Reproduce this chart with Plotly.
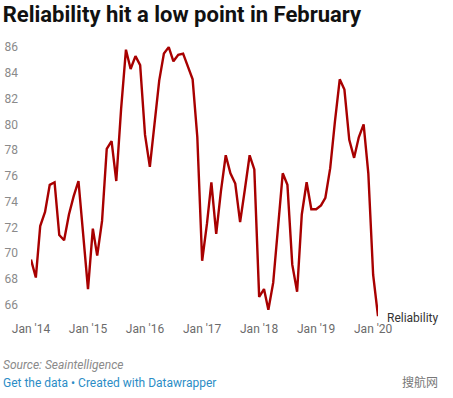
import plotly.graph_objects as go
import pandas as pd

months = pd.date_range("2014-01-01", "2020-02-01", freq="MS")
reliability = [
    69.5, 68.1, 72.1, 73.2, 75.3, 75.5, 71.4, 71.0, 73.0, 74.4, 75.6, 71.5,   # 2014
    67.2, 71.9, 69.8, 72.5, 78.1, 78.7, 75.6, 81.2, 85.8, 84.3, 85.3, 84.6,   # 2015
    79.2, 76.7, 80.1, 83.4, 85.5, 86.0, 84.9, 85.4, 85.5, 84.5, 83.5, 79.0,   # 2016
    69.4, 72.3, 75.5, 71.5, 74.8, 77.6, 76.2, 75.4, 72.4, 74.9, 77.6, 76.5,   # 2017
    66.6, 67.2, 65.6, 67.7, 71.8, 76.2, 75.3, 69.1, 67.0, 73.0, 75.5, 73.4,   # 2018
    73.4, 73.7, 74.3, 76.6, 80.2, 83.5, 82.7, 78.8, 77.4, 79.0, 80.0, 76.2,   # 2019
    68.3, 65.1,                                                               # 2020
]
series_name = "Reliability"
x_ticks = pd.date_range("2014-01-01", "2020-01-01", freq="YS")
x_tick_labels = ["Jan '14", "Jan '15", "Jan '16", "Jan '17", "Jan '18", "Jan '19", "Jan '20"]
y_ticks = [66, 68, 70, 72, 74, 76, 78, 80, 82, 84, 86]

W, H = 453, 398
L, R, T, B = 31, 75, 42, 78
PW, PH = W - L - R, H - T - B

fig = go.Figure()
fig.add_trace(go.Scatter(
    x=months, y=reliability, mode="lines", name=series_name,
    line=dict(color="#a80000", width=2.4), hoverinfo="skip",
))

fig.add_annotation(
    x=months[-1], y=reliability[-1], text=series_name, showarrow=False,
    xanchor="left", yanchor="middle", xshift=7, yshift=-2,
    font=dict(family="Roboto", size=12, color="#333333"),
)

fig.update_layout(
    width=W, height=H,
    margin=dict(l=L, r=R, t=T, b=B),
    paper_bgcolor="white", plot_bgcolor="white",
    showlegend=False,
    font=dict(family="Roboto"),
    title=dict(
        text="<b>Reliability hit a low point in February</b>",
        x=0.006, xanchor="left", y=0.965, yanchor="middle",
        font=dict(family="Roboto", size=22, color="#111111"),
    ),
    xaxis=dict(
        range=[months[0], months[-1]],
        tickvals=x_ticks, ticktext=x_tick_labels,
        showgrid=False, zeroline=False, showline=False, ticks="", ticklen=0,
        tickfont=dict(family="Roboto", size=12, color="#6b6b6b"),
        ticklabelstandoff=0, automargin=False,
    ),
    yaxis=dict(
        range=[64.8, 86.4],
        tickvals=y_ticks,
        showgrid=False, zeroline=False, showline=False, ticks="", ticklen=0,
        tickfont=dict(family="Roboto", size=12, color="#8a8a8a"),
        ticklabelstandoff=12, automargin=False,
    ),
)

def py(ypix):
    return (H - B - ypix) / PH

def px(xpix):
    return (xpix - L) / PW

fig.add_annotation(
    xref="paper", yref="paper", x=px(1), y=py(365),
    text="<i>Source: Seaintelligence</i>", showarrow=False,
    xanchor="left", yanchor="middle",
    font=dict(family="Roboto", size=12, color="#8a8a8a"),
)
fig.add_annotation(
    xref="paper", yref="paper", x=px(1), y=py(383),
    text="Get the data • Created with Datawrapper", showarrow=False,
    xanchor="left", yanchor="middle",
    font=dict(family="Roboto", size=12, color="#2b8dc6"),
)
fig.add_annotation(
    xref="paper", yref="paper", x=px(440), y=py(381),
    text="搜航网", showarrow=False,
    xanchor="right", yanchor="middle",
    font=dict(family="Noto Sans CJK SC", size=12, color="#777777"),
)

fig.write_html("out.html", config={"displayModeBar": False},
               post_script="document.body.style.margin='0';")
